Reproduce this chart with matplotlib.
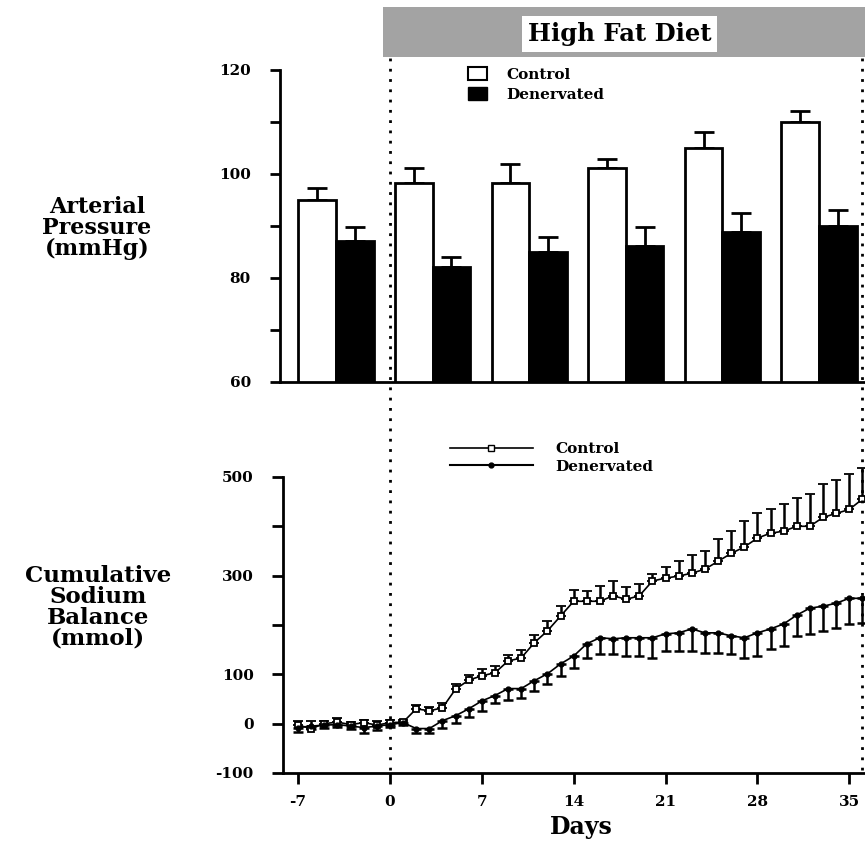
import numpy as np
import matplotlib
matplotlib.use("Agg")
import matplotlib.pyplot as plt
from matplotlib.patches import Rectangle, Patch
from matplotlib.lines import Line2D
from matplotlib import transforms

plt.rcParams["font.family"] = ["DejaVu Serif"]
plt.rcParams["font.weight"] = "bold"

# arterial pressure, baseline week + 5 weeks of high fat diet
ctrl_map = [95.0, 98.3, 98.3, 101.2, 105.0, 110.0]
ctrl_map_sem = [2.3, 2.9, 3.6, 1.7, 3.1, 2.1]
den_map = [87.1, 82.1, 85.0, 86.2, 88.8, 90.0]
den_map_sem = [2.7, 1.9, 2.9, 3.6, 3.7, 3.1]

# cumulative sodium balance, daily
days = list(range(-7, 37))
ctrl_na = [-3, -10, 0, 3, -2, 2, -3, 2,
           3, 30, 26, 32, 70, 88, 97, 103, 127, 133, 164, 188, 218, 248,
           248, 248, 259, 252, 259, 289, 295, 299, 305, 313, 329, 345, 358,
           376, 386, 390, 400, 400, 418, 426, 434, 455]
ctrl_na_sem = [8, 15, 6, 8, 6, 6, 8, 5,
               5, 8, 8, 10, 10, 10, 14, 14, 12, 16, 16, 20, 20, 22,
               20, 30, 30, 24, 24, 14, 22, 30, 36, 36, 45, 46, 53,
               50, 50, 55, 57, 65, 67, 67, 71, 63]
den_na = [-8, -5, -3, -2, -5, -8, -5, -2,
          2, -10, -10, 6, 16, 30, 46, 57, 71, 71, 87, 101, 121, 137,
          162, 174, 172, 174, 174, 174, 182, 184, 192, 184, 184, 178, 174,
          184, 192, 202, 220, 234, 238, 244, 254, 254]
den_na_sem = [8, 6, 5, 5, 6, 12, 8, 5,
              5, 10, 10, 14, 14, 16, 20, 16, 24, 20, 20, 20, 24, 24,
              28, 32, 30, 36, 36, 40, 34, 36, 44, 40, 40, 36, 42,
              46, 40, 44, 42, 52, 50, 50, 52, 50]

hfd_start = 0
hfd_end = 36

fig = plt.figure(figsize=(8.65, 8.41), dpi=100)
ax1 = fig.add_axes([0.3237, 0.5458, 0.6763, 0.371])
ax2 = fig.add_axes([0.3272, 0.0809, 0.6728, 0.352])

# ---- top: bars
x = np.arange(len(ctrl_map))
w = 0.39
zeros = np.zeros(len(x))
ax1.bar(x - w / 2, ctrl_map, w, color="white", edgecolor="black", linewidth=2, zorder=2)
ax1.bar(x + w / 2, den_map, w, color="black", edgecolor="black", linewidth=2, zorder=2)
ax1.errorbar(x - w / 2, ctrl_map, yerr=[zeros, ctrl_map_sem], fmt="none", ecolor="black",
             elinewidth=2, capsize=7, capthick=2, zorder=1)
ax1.errorbar(x + w / 2, den_map, yerr=[zeros, den_map_sem], fmt="none", ecolor="black",
             elinewidth=2, capsize=7, capthick=2, zorder=1)
ax1.set_xlim(-0.58, 5.476)
ax1.set_ylim(60, 120)
ax1.set_yticks([60, 80, 100, 120])
ax1.set_yticks([70, 90, 110], minor=True)
ax1.set_xticks([])
for s in ["top", "right"]:
    ax1.spines[s].set_visible(False)
for s in ["left", "bottom"]:
    ax1.spines[s].set_linewidth(2)
ax1.tick_params(axis="y", which="both", direction="out", length=7, width=2, pad=14, labelsize=11)

ax1.legend(handles=[Patch(facecolor="white", edgecolor="black", linewidth=1.5, label="Control"),
                    Patch(facecolor="black", edgecolor="black", label="Denervated")],
           loc="upper left", bbox_to_anchor=(0.322, 1.01), frameon=False, fontsize=11,
           handlelength=1.2, handleheight=0.95, handletextpad=1.3, labelspacing=0.35,
           borderpad=0, borderaxespad=0)

# ---- bottom: sodium balance
ax2.errorbar(days, ctrl_na, yerr=[np.zeros(len(days)), ctrl_na_sem], fmt="-s", color="black",
             mfc="white", mec="black", ms=4.6, mew=1.3, lw=1.2, elinewidth=1.8,
             capsize=3.5, capthick=1.8, clip_on=False, zorder=3)
ax2.errorbar(days, den_na, yerr=[den_na_sem, np.zeros(len(days))], fmt="-o", color="black",
             ms=3.5, lw=1.2, elinewidth=1.8, capsize=3.5, capthick=1.8, clip_on=False, zorder=3)
ax2.set_xlim(-8.15, 36.2)
ax2.set_ylim(-100, 500)
ax2.set_xticks([-7, 0, 7, 14, 21, 28, 35])
ax2.set_xticklabels(["-7", "0", "7", "14", "21", "28", "35"])
ax2.set_yticks([-100, 0, 100, 200, 300, 400, 500])
ax2.set_yticklabels(["-100", "0", "100", "", "300", "", "500"])
for s in ["top", "right"]:
    ax2.spines[s].set_visible(False)
for s in ["left", "bottom"]:
    ax2.spines[s].set_linewidth(2)
ax2.tick_params(axis="y", direction="out", length=8, width=2, pad=13, labelsize=11)
ax2.tick_params(axis="x", direction="out", length=8, width=2, pad=8, labelsize=11)

ax2.legend(handles=[Line2D([], [], color="black", lw=1.2, marker="s", mfc="white", ms=4.6, label="Control"),
                    Line2D([], [], color="black", lw=1.5, marker="o", ms=3.5, label="Denervated")],
           loc="upper left", bbox_to_anchor=(0.287, 1.118), frameon=False, fontsize=11,
           handlelength=5.4, handletextpad=1.5, labelspacing=0.25, borderpad=0, borderaxespad=0)

# diet period markers across both panels
blend = transforms.blended_transform_factory(ax2.transData, fig.transFigure)
for d in [hfd_start, hfd_end]:
    fig.add_artist(Line2D([d, d], [0.084, 0.934], transform=blend, color="black",
                          lw=2.0, linestyle=(0, (1, 2.7))))

fig.add_artist(Rectangle((0.4428, 0.9322), 0.6, 0.0595, transform=fig.transFigure,
                         facecolor="#a3a3a3", edgecolor="none"))
fig.text(0.716, 0.9596, "High Fat Diet", ha="center", va="center", fontsize=17.5,
         bbox=dict(facecolor="white", edgecolor="none", pad=4))

fig.text(0.112, 0.729, "Arterial\nPressure\n(mmHg)", ha="center", va="center",
         fontsize=16, linespacing=0.93)
fig.text(0.113, 0.278, "Cumulative\nSodium\nBalance\n(mmol)", ha="center", va="center",
         fontsize=16.5, linespacing=0.93)
fig.text(0.672, 0.0166, "Days", ha="center", va="center", fontsize=17)

fig.savefig("out.png", dpi=100)
